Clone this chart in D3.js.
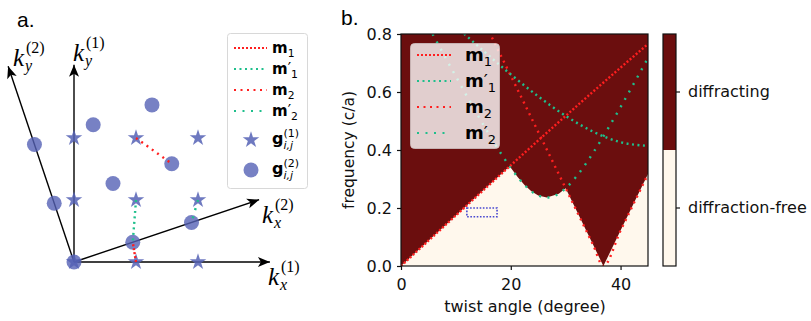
<!DOCTYPE html>
<html><head><meta charset="utf-8">
<script src="https://cdn.jsdelivr.net/npm/d3@7"></script>
<style>body{margin:0;background:#fff} svg{display:block}</style>
</head><body>
<svg id="c" width="811" height="321"></svg>
<script>
// ================= DATA =================
// panel a : reciprocal lattice indices (i, j) used for both lattices
const latticeIdx = [[0,0],[1,0],[2,0],[0,1],[1,1],[2,1],[0,2],[1,2],[2,2]];
const twistA = 18.6;               // twist angle drawn in panel a (degrees)
// moire vectors drawn in panel a: from lattice-1 star to lattice-2 circle
const connSeries = ["m1","m1p","m2","m2p"];
const connFrom   = [[1,0],[1,1],[1,2],[2,1]];   // g(1) indices
const connTo     = [[1,0],[1,0],[2,1],[2,0]];   // g(2) indices
// reciprocal axes: lattice, direction (0 = x, 90 = y), length (units of 2pi/a)
const axLattice = [1,1,2,2];
const axDir     = [0,90,0,90];
const axLen     = [3.16,3.18,3.15,3.33];

// panel b : twist angle (degree) vs frequency (c/a)
const thM1  = [0,5,10,15,20,25,30,35,40,45];
const fM1   = [0,0.0872,0.1743,0.2611,0.3473,0.4329,0.5176,0.6014,0.6840,0.7654];
const thM1p = [10,12,15,20,25,30,35,40,45];
const fM1p  = [0.8264,0.7924,0.7420,0.6608,0.5849,0.5176,0.4633,0.4270,0.4142];
const thM2  = [15,17.5,20,22.5,25,27.5,30,32.5,35,36.87,40,42.5,45];
const fM2   = [0.8484,0.7524,0.6560,0.5594,0.4624,0.3653,0.2679,0.1705,0.0730,0,0.1221,0.2196,0.3170];
const thM2p = [5,7.5,10,12.5,15,17.5,20,22.5,25,26.57,27.5,30,32.5,35,37.5,40,42.5,45];
const fM2p  = [0.8257,0.7391,0.6535,0.5690,0.4871,0.4091,0.3382,0.2796,0.2429,0.2361,0.2386,0.2680,0.3220,0.3905,0.4670,0.5481,0.6320,0.7174];
// boundary of the diffraction-free region
const thEdge = [0,5,10,15,19.8,21.25,22.5,23.75,25,26.57,28.75,30,32.5,35,36.87,40,42.5,45];
const fEdge  = [0,0.0872,0.1743,0.2611,0.344,0.3069,0.2796,0.2579,0.2429,0.2361,0.2494,0.268,0.1705,0.073,0,0.1221,0.2196,0.317];
// marked window
const boxTheta = [12,17.5];
const boxFreq  = [0.17,0.20];

const xTicks = [0,20,40];
const yTicks = [0,0.2,0.4,0.6,0.8];
const cbClasses = ["diffraction-free","diffracting"];

// ================= STYLE =================
const RED = "#ff1f1f", GREEN = "#1fbf8c", BLUE = "#5561b5";
const DARK = "#6b0e0e", LIGHT = "#fff8ed";
const dash = {m1:"2,2", m1p:"2,3.5", m2:"2,4.5", m2p:"2,6.5"};
const col  = {m1:RED, m1p:GREEN, m2:RED, m2p:GREEN};
const labs = {m1:["1",false], m1p:["1",true], m2:["2",false], m2p:["2",true]};
const SANS = "DejaVu Sans";

const svg = d3.select("#c");

// ================= PANEL A =================
const xA = d3.scaleLinear().domain([0,1]).range([74,136]);
const yA = d3.scaleLinear().domain([0,1]).range([262,200]);
const rad = Math.PI/180;
function kpt(lat, i, j){
  if (lat === 1) return [i, j];
  const c = Math.cos(twistA*rad), s = Math.sin(twistA*rad);
  return [i*c - j*s, i*s + j*c];
}
svg.append("defs").append("marker")
  .attr("id","arr").attr("markerUnits","userSpaceOnUse")
  .attr("markerWidth",14).attr("markerHeight",12)
  .attr("refX",0).attr("refY",0).attr("orient","auto")
  .attr("viewBox","-13 -6 14 12")
  .append("path").attr("d","M0,0 L-12,-5 L-9,0 L-12,5 Z").attr("fill","#000");

const gA = svg.append("g");
axLattice.forEach((lat,k)=>{
  const ang = (lat===1?0:twistA) + axDir[k];
  const e = [axLen[k]*Math.cos(ang*rad), axLen[k]*Math.sin(ang*rad)];
  gA.append("line").attr("x1",xA(0)).attr("y1",yA(0))
    .attr("x2",xA(e[0])).attr("y2",yA(e[1]))
    .attr("stroke","#000").attr("stroke-width",1.4).attr("marker-end","url(#arr)");
});
// lattice 2 circles
gA.selectAll("circle.g2").data(latticeIdx).join("circle")
  .attr("cx",d=>xA(kpt(2,d[0],d[1])[0])).attr("cy",d=>yA(kpt(2,d[0],d[1])[1]))
  .attr("r",7.5).attr("fill",BLUE).attr("fill-opacity",0.8);
// lattice 1 stars
const star = d3.symbol().type(d3.symbolStar).size(85);
gA.selectAll("path.g1").data(latticeIdx).join("path")
  .attr("transform",d=>`translate(${xA(d[0])},${yA(d[1])})`)
  .attr("d",star).attr("fill",BLUE).attr("fill-opacity",0.85);
// moire vectors
connSeries.forEach((s,k)=>{
  const a = kpt(1,connFrom[k][0],connFrom[k][1]);
  const b = kpt(2,connTo[k][0],connTo[k][1]);
  gA.append("line").attr("x1",xA(a[0])).attr("y1",yA(a[1]))
    .attr("x2",xA(b[0])).attr("y2",yA(b[1]))
    .attr("stroke",col[s]).attr("stroke-width",2.4).attr("stroke-dasharray",dash[s]);
});
// axis labels
function kLabel(x, y, sub, sup){
  gA.append("text").attr("x",x).attr("y",y).attr("font-family","Liberation Serif")
    .attr("font-style","italic").attr("font-size",25).text("k");
  gA.append("text").attr("x",x+13).attr("y",y-13).attr("font-family","Liberation Serif")
    .attr("font-size",16).text("("+sup+")");
  gA.append("text").attr("x",x+12).attr("y",y+5).attr("font-family","Liberation Serif")
    .attr("font-style","italic").attr("font-size",16).text(sub);
}
kLabel(73,61,"y","1");
kLabel(13,66,"y","2");
kLabel(262,223,"x","2");
kLabel(268,285,"x","1");

// legend a
const legA = svg.append("g");
legA.append("rect").attr("x",227.5).attr("y",33.5).attr("width",80).attr("height",155).attr("rx",3)
  .attr("fill","#fff").attr("stroke","#d8d8d8");
function mText(sel, x, y, sub, prime, fs){
  const t = sel.append("text").attr("x",x).attr("y",y).attr("font-family",SANS).attr("font-size",fs).attr("fill","#000");
  t.append("tspan").attr("font-weight","bold").text("m");
  if (prime) t.append("tspan").text("′");
  t.append("tspan").attr("font-size",fs*0.72).attr("dy",fs*0.28).text(sub);
}
const rowA = [48,69,90,111];
connSeries.forEach((s,k)=>{
  legA.append("line").attr("x1",234).attr("x2",267).attr("y1",rowA[k]).attr("y2",rowA[k])
    .attr("stroke",col[s]).attr("stroke-width",2.2).attr("stroke-dasharray",dash[s]);
  mText(legA,272,rowA[k]+5,labs[s][0],labs[s][1],15);
});
legA.append("path").attr("transform","translate(251,140)").attr("d",star).attr("fill",BLUE).attr("fill-opacity",0.85);
legA.append("circle").attr("cx",251).attr("cy",170).attr("r",7.5).attr("fill",BLUE).attr("fill-opacity",0.8);
function gText(x, y, sup){
  legA.append("text").attr("x",x).attr("y",y).attr("font-family",SANS).attr("font-weight","bold").attr("font-size",16).text("g");
  legA.append("text").attr("x",x+11.5).attr("y",y-7).attr("font-family",SANS).attr("font-size",11).text("("+sup+")");
  legA.append("text").attr("x",x+11.5).attr("y",y+5).attr("font-family",SANS).attr("font-style","italic").attr("font-size",11).text("i,j");
}
gText(272,144,"1");
gText(272,174,"2");

svg.append("text").attr("x",17).attr("y",27).attr("font-family","Liberation Sans").attr("font-size",21).text("a.");

// ================= PANEL B =================
const xB = d3.scaleLinear().domain([0,45]).range([401,648]);
const yB = d3.scaleLinear().domain([0,0.8]).range([266,34]);
const gB = svg.append("g");
gB.append("clipPath").attr("id","clipB").append("rect")
  .attr("x",xB(0)).attr("y",yB(0.8)).attr("width",xB(45)-xB(0)).attr("height",yB(0)-yB(0.8));
const plot = gB.append("g").attr("clip-path","url(#clipB)");
plot.append("rect").attr("x",xB(0)).attr("y",yB(0.8)).attr("width",xB(45)-xB(0)).attr("height",yB(0)-yB(0.8)).attr("fill",DARK);
const edge = thEdge.map((t,i)=>[t,fEdge[i]]);
plot.append("path").datum(edge)
  .attr("d",d3.area().x(d=>xB(d[0])).y0(yB(0)).y1(d=>yB(d[1])))
  .attr("fill",LIGHT);
const series = {m1:[thM1,fM1], m1p:[thM1p,fM1p], m2:[thM2,fM2], m2p:[thM2p,fM2p]};
const lineB = d3.line().x(d=>xB(d[0])).y(d=>yB(d[1])).curve(d3.curveMonotoneX);
["m2p","m2","m1p","m1"].forEach(s=>{
  const pts = series[s][0].map((t,i)=>[t,series[s][1][i]]);
  plot.append("path").datum(pts).attr("d",lineB).attr("fill","none")
    .attr("stroke",col[s]).attr("stroke-width",2.4).attr("stroke-dasharray",dash[s]);
});
plot.append("rect").attr("x",xB(boxTheta[0])).attr("y",yB(boxFreq[1]))
  .attr("width",xB(boxTheta[1])-xB(boxTheta[0])).attr("height",yB(boxFreq[0])-yB(boxFreq[1]))
  .attr("fill","none").attr("stroke","#4848d0").attr("stroke-width",1.6).attr("stroke-dasharray","1.6,1.6");
// legend b
const legB = gB.append("g");
legB.append("rect").attr("x",410.5).attr("y",43.5).attr("width",89).attr("height",105).attr("rx",4)
  .attr("fill","#fff").attr("fill-opacity",0.8).attr("stroke","#cfc3c3").attr("stroke-opacity",0.8);
const rowB = [55,81,107,133];
connSeries.forEach((s,k)=>{
  legB.append("line").attr("x1",417).attr("x2",451).attr("y1",rowB[k]).attr("y2",rowB[k])
    .attr("stroke",col[s]).attr("stroke-width",2.2).attr("stroke-dasharray",dash[s]);
  mText(legB,465,rowB[k]+6,labs[s][0],labs[s][1],18);
});
// spines
gB.append("rect").attr("x",xB(0)).attr("y",yB(0.8)).attr("width",xB(45)-xB(0)).attr("height",yB(0)-yB(0.8))
  .attr("fill","none").attr("stroke","#111").attr("stroke-width",1.2);
// axes
const xAxis = gB.append("g").attr("transform",`translate(0,${yB(0)})`)
  .call(d3.axisBottom(xB).tickValues(xTicks).tickFormat(d3.format("d")).tickSize(4).tickSizeOuter(0).tickPadding(9));
const yAxis = gB.append("g").attr("transform",`translate(${xB(0)},0)`)
  .call(d3.axisLeft(yB).tickValues(yTicks).tickFormat(d3.format(".1f")).tickSize(4).tickSizeOuter(0).tickPadding(5));
[xAxis,yAxis].forEach(a=>{
  a.select(".domain").remove();
  a.selectAll("line").attr("stroke","#111").attr("stroke-width",1.2);
  a.selectAll("text").attr("font-family",SANS).attr("font-size",16).attr("fill","#111");
});
gB.append("text").attr("x",525).attr("y",312).attr("text-anchor","middle")
  .attr("font-family",SANS).attr("font-size",16).attr("fill","#111").text("twist angle (degree)");
gB.append("text").attr("transform","translate(354,150) rotate(-90)").attr("text-anchor","middle")
  .attr("font-family",SANS).attr("font-size",15.5).attr("fill","#111").text("frequency (c/a)");
svg.append("text").attr("x",341).attr("y",25).attr("font-family","Liberation Sans").attr("font-size",21).text("b.");

// colorbar
const yC = d3.scaleBand().domain(cbClasses).range([yB(0),yB(0.8)]);
const gC = svg.append("g");
gC.selectAll("rect.cb").data(cbClasses).join("rect")
  .attr("x",663).attr("width",13).attr("y",d=>yC(d)).attr("height",yC.bandwidth())
  .attr("fill",(d,i)=>i===0?LIGHT:DARK);
gC.append("rect").attr("x",663).attr("y",yB(0.8)).attr("width",13).attr("height",yB(0)-yB(0.8))
  .attr("fill","none").attr("stroke","#111").attr("stroke-width",1.2);
const cAxis = gC.append("g").attr("transform","translate(676,0)")
  .call(d3.axisRight(yC).tickSize(4).tickSizeOuter(0).tickPadding(8));
cAxis.select(".domain").remove();
cAxis.selectAll("line").attr("stroke","#111").attr("stroke-width",1.2);
cAxis.selectAll("text").attr("font-family",SANS).attr("font-size",16).attr("fill","#111");
</script>
</body></html>
